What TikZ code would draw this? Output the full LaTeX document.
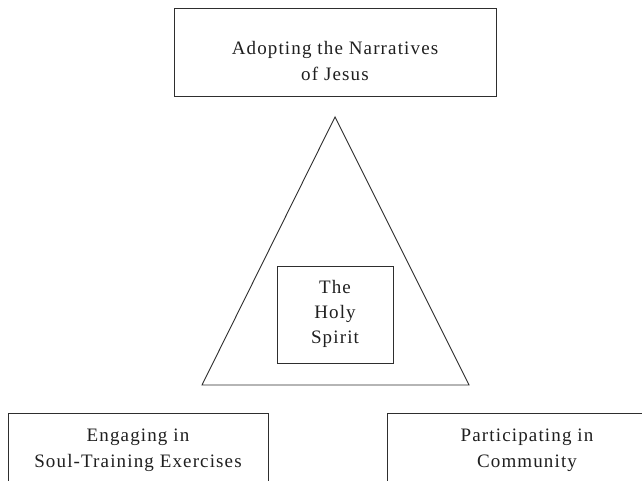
\documentclass[tikz,border=0pt]{standalone}
\usepackage{fontspec}
\setmainfont[LetterSpace=6]{Liberation Serif}
\begin{document}
\begin{tikzpicture}[x=1pt,y=-1pt,
  lc/.style={draw=black!82, line width=0.9pt},
  boxshape/.style={lc, rectangle, inner sep=0pt, anchor=north west},
  txt/.style={font=\fontsize{19}{26}\selectfont, text=black!88, align=center, inner sep=0pt}]
\clip (0,0) rectangle (642,481);
\fill[white] (0,0) rectangle (642,481);
% top box
\node[boxshape, minimum width=322pt, minimum height=88pt] (topbox) at (174,8) {};
\node[txt] (toptext) at (335,61) {Adopting the Narratives\\of Jesus};
% triangle
\coordinate (apex) at (335,117);
\coordinate (bl) at (202,385);
\coordinate (br) at (469,385);
\draw[lc, line join=miter] (apex) -- (bl) -- (br) -- cycle;
% inner box
\node[boxshape, minimum width=116pt, minimum height=97pt] (spiritbox) at (277,266) {};
\node[txt, font=\fontsize{19}{25}\selectfont] (spirit) at (335,314) {The\\Holy\\Spirit};
% bottom boxes
\node[boxshape, minimum width=260pt, minimum height=100pt] (leftbox) at (8,413) {};
\node[txt] (lefttext) at (138,450) {Engaging in\\Soul-Training Exercises};
\node[boxshape, minimum width=280pt, minimum height=100pt] (rightbox) at (387,413) {};
\node[txt] (righttext) at (527,450) {Participating in\\Community};
\end{tikzpicture}
\end{document}
